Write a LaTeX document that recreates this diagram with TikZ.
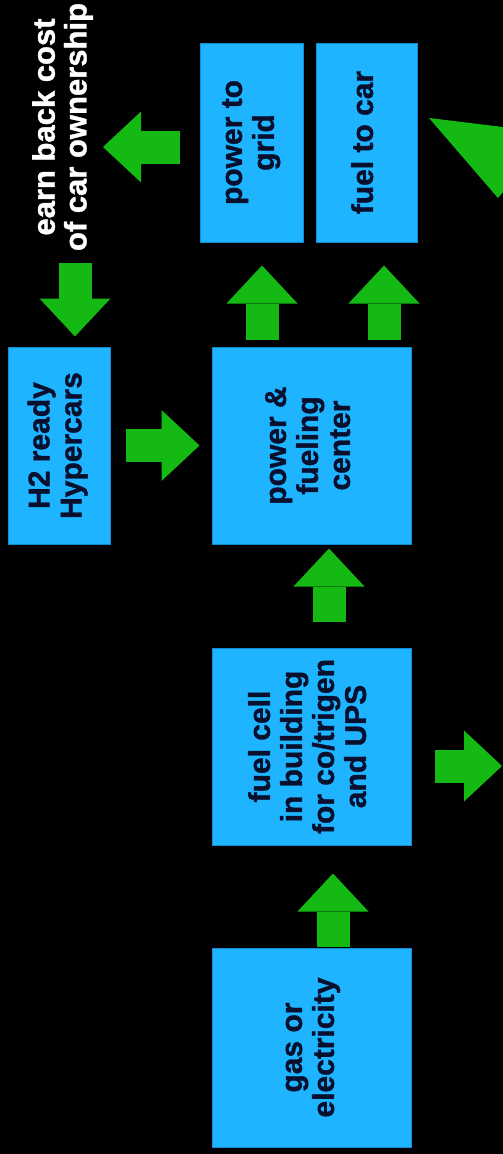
\documentclass[tikz,border=0pt]{standalone}
\usepackage{fontspec}
\usepackage{graphicx}
\setmainfont{Liberation Sans}[BoldFeatures={FakeBold=1.2}]
\usetikzlibrary{arrows.meta}
\definecolor{boxblue}{RGB}{30,180,255}
\definecolor{boxedge}{RGB}{20,140,210}
\definecolor{arrgreen}{RGB}{20,185,20}
\definecolor{txtnavy}{RGB}{8,16,45}
\newcommand{\rtext}[1]{\rotatebox{90}{\begin{tabular}{@{}c@{}}#1\end{tabular}}}
\begin{document}
\begin{tikzpicture}[x=1pt,y=-1pt,
  blockbox/.style={fill=boxblue,draw=boxedge,line width=1pt,inner sep=0pt,text=txtnavy,
    font=\fontsize{30}{32}\selectfont\bfseries},
  fat/.style={draw=arrgreen,line width=33pt,
    -{Triangle[width=71pt,length=38pt,line width=0pt]}}]
\fill[black] (0,0) rectangle (503,1154);
\useasboundingbox (0,0) rectangle (503,1154);

\node[blockbox,minimum width=103pt,minimum height=199pt] (grid) at (251.5,142.5) {\rtext{power to\\grid}};
\node[blockbox,minimum width=101pt,minimum height=199pt] (car) at (366.5,142.5) {\rtext{fuel to car}};
\node[blockbox,minimum width=102pt,minimum height=197pt] (hyper) at (59,445.5) {\rtext{H2 ready\\Hypercars}};
\node[blockbox,minimum width=199pt,minimum height=197pt] (pfc) at (311.5,445.5) {\rtext{power \&\\fueling\\center}};
\node[blockbox,minimum width=199pt,minimum height=197pt] (fc) at (311.5,746.5) {\rtext{fuel cell\\in building\\for co/trigen\\and UPS}};
\node[blockbox,minimum width=199pt,minimum height=199pt] (gas) at (311.5,1047.5) {\rtext{gas or\\electricity}};

\node[text=white,inner sep=0pt,font=\fontsize{31}{31}\selectfont\bfseries] (label) at (64,127) {\rtext{earn back cost\\of car ownership}};

\coordinate (gl) at (103,147);
\coordinate (lb) at (75,263);
\coordinate (out) at (502,766);

\draw[fat,shorten <=7pt,shorten >=23pt] ([xshift=-49.5pt]pfc.north) -- ([xshift=10.5pt]grid.south);
\draw[fat,shorten <=7pt,shorten >=23pt] ([xshift=72.5pt]pfc.north) -- ([xshift=17.5pt]car.south);
\draw[fat,shorten <=15pt,shorten >=12pt] (hyper.east) -- (pfc.west);
\draw[fat,shorten <=26pt,shorten >=4pt] ([xshift=17.5pt]fc.north) -- ([xshift=17.5pt]pfc.south);
\draw[fat,shorten <=1pt,shorten >=28pt] ([xshift=21.5pt]gas.north) -- ([xshift=21.5pt]fc.south);
\draw[fat,shorten <=23pt] ([yshift=-19.5pt]fc.east) -- (out);
\draw[fat,shorten <=20pt] ([yshift=-4.5pt]grid.west) -- (gl);
\draw[fat,shorten >=10pt] (lb) -- ([xshift=16pt]hyper.north);

\fill[arrgreen] (429,118) -- (503,127) -- (503,192) -- (498,198) -- cycle;
\end{tikzpicture}
\end{document}
